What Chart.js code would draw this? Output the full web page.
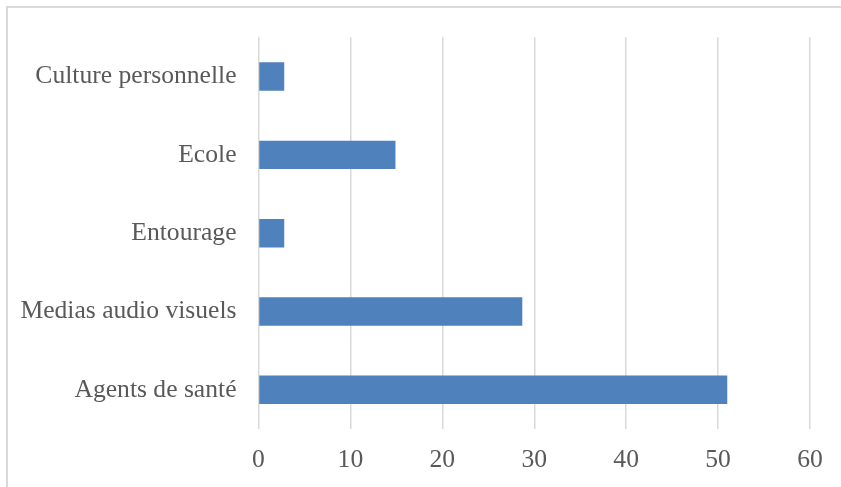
<!DOCTYPE html>
<html>
<head>
<meta charset="utf-8">
<script src="https://cdn.jsdelivr.net/npm/chart.js@4/dist/chart.umd.min.js"></script>
<style>
  html, body { margin: 0; padding: 0; background: #fff; }
  #wrap { position: relative; width: 841px; height: 487px; overflow: hidden; }
  #frame { position: absolute; left: 6px; top: 6px; width: 900px; height: 600px;
           border-top: 2px solid #d9d9d9; border-left: 2px solid #d9d9d9; pointer-events: none; }
  canvas { position: absolute; left: 0; top: 0; }
</style>
</head>
<body>
<div id="wrap">
  <canvas id="c" width="841" height="487"></canvas>
  <div id="frame"></div>
</div>
<script>
const categories = ["Culture personnelle", "Ecole", "Entourage", "Medias audio visuels", "Agents de santé"];
const values = [2.8, 14.9, 2.8, 28.7, 51.0];
const xTicks = [0, 10, 20, 30, 40, 50, 60];

const FONT = { family: "'Liberation Serif', 'Times New Roman', serif", size: 25.6 };
const TEXT = '#595959';

new Chart(document.getElementById('c'), {
  type: 'bar',
  data: {
    labels: categories,
    datasets: [{
      data: values,
      backgroundColor: '#4F81BD',
      borderWidth: 0,
      categoryPercentage: 1.0,
      barPercentage: 0.363
    }]
  },
  options: {
    indexAxis: 'y',
    responsive: false,
    animation: false,
    devicePixelRatio: 1,
    layout: { padding: { left: 0, right: 31, top: 36, bottom: 0 } },
    plugins: { legend: { display: false }, tooltip: { enabled: false } },
    scales: {
      x: {
        min: xTicks[0],
        max: xTicks[xTicks.length - 1],
        afterBuildTicks: (s) => { s.ticks = xTicks.map(v => ({ value: v })); },
        afterFit: (s) => { s.height = 58; },
        grid: { color: '#d9d9d9', lineWidth: 1.5, drawTicks: false },
        border: { display: false },
        ticks: { font: FONT, color: TEXT, padding: 16, maxRotation: 0 }
      },
      y: {
        afterFit: (s) => { s.width = 258.5; },
        grid: { display: false, drawTicks: false },
        border: { display: false },
        ticks: { font: FONT, color: TEXT, padding: 22 }
      }
    }
  }
});
</script>
</body>
</html>
